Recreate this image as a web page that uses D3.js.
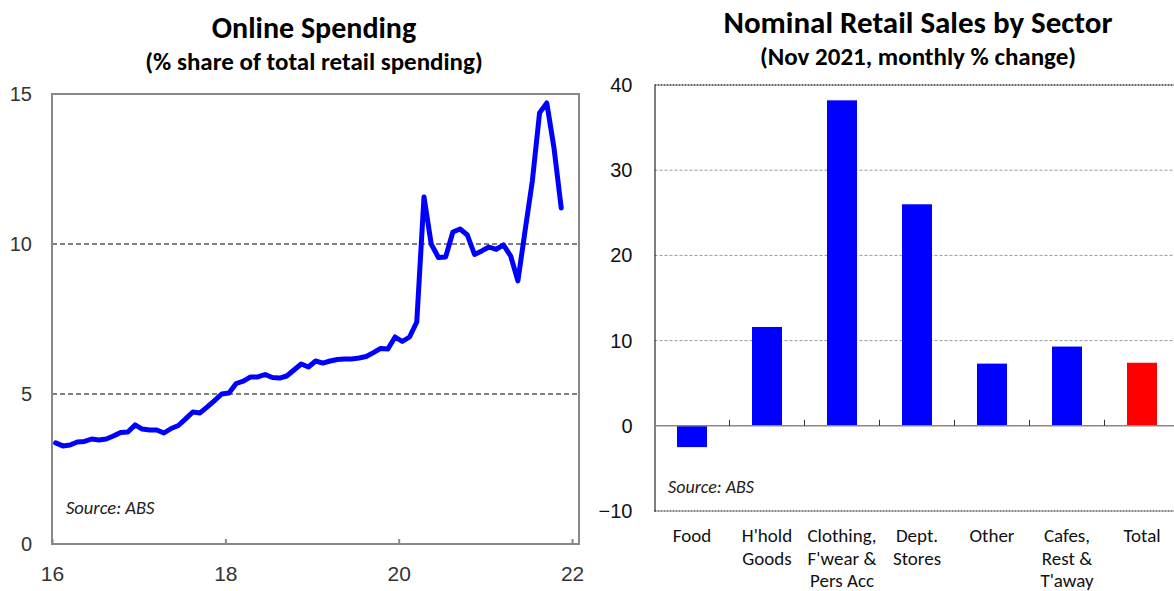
<!DOCTYPE html>
<html>
<head>
<meta charset="utf-8">
<script src="https://cdn.jsdelivr.net/npm/d3@7"></script>
<style>
  body { margin: 0; background: #fff; }
  svg { display: block; font-family: Carlito, Calibri, Lato, sans-serif; }
</style>
</head>
<body>
<div id="vis-container"></div>
<script>
// left chart: online share of retail, monthly Jan 2016 - Nov 2021
var onlineStart = 2016;
var onlineShare = [
  3.37, 3.27, 3.30, 3.40, 3.42, 3.50, 3.47, 3.50, 3.60, 3.72, 3.73, 3.97,
  3.83, 3.80, 3.80, 3.70, 3.85, 3.95, 4.17, 4.40, 4.37, 4.57, 4.78, 5.00,
  5.03, 5.35, 5.43, 5.57, 5.57, 5.65, 5.55, 5.53, 5.60, 5.80, 6.00, 5.90,
  6.10, 6.03, 6.10, 6.15, 6.17, 6.17, 6.20, 6.25, 6.38, 6.52, 6.50, 6.90,
  6.75, 6.90, 7.40, 11.57, 10.00, 9.55, 9.57, 10.40, 10.50, 10.30, 9.65, 9.77,
  9.90, 9.82, 9.97, 9.60, 8.77, 10.45, 12.10, 14.37, 14.70, 13.20, 11.20
];
var onlineYTicks = [0, 5, 10, 15];
var onlineXTicks = [16, 18, 20, 22];

// right chart: retail sales by sector
var sectors = ["Food", "H'hold Goods", "Clothing, F'wear & Pers Acc", "Dept. Stores", "Other", "Cafes, Rest & T'away", "Total"];
var sectorLines = [["Food"], ["H'hold", "Goods"], ["Clothing,", "F'wear &", "Pers Acc"], ["Dept.", "Stores"], ["Other"], ["Cafes,", "Rest &", "T'away"], ["Total"]];
var sectorChange = [-2.5, 11.6, 38.2, 26.0, 7.3, 9.3, 7.4];
var sectorYTicks = [-10, 0, 10, 20, 30, 40];

var svg = d3.select("#vis-container")
  .append("svg")
  .attr("width", 1174)
  .attr("height", 591);

// ---------- left chart ----------
var L = { left: 52, right: 579, top: 94, bottom: 544 };

var xL = d3.scaleLinear().domain([16, 22.08]).range([L.left, L.right]);
var yL = d3.scaleLinear().domain([0, 15]).range([L.bottom, L.top]);

svg.append("text")
  .attr("x", 314).attr("y", 38)
  .attr("text-anchor", "middle")
  .style("font-size", "30px").style("font-weight", "bold")
  .text("Online Spending");
svg.append("text")
  .attr("x", 314).attr("y", 70)
  .attr("text-anchor", "middle")
  .style("font-size", "25px").style("font-weight", "bold")
  .text("(% share of total retail spending)");

// dashed grid
svg.append("g").selectAll("line")
  .data([5, 10])
  .enter().append("line")
  .attr("x1", L.left).attr("x2", L.right)
  .attr("y1", function(d) { return yL(d); })
  .attr("y2", function(d) { return yL(d); })
  .attr("stroke", "#000").attr("stroke-width", 1)
  .attr("stroke-dasharray", "5,3");

var yAxisL = svg.append("g")
  .attr("transform", "translate(" + L.left + ",0)")
  .call(d3.axisLeft(yL).tickValues(onlineYTicks).tickSize(0).tickPadding(20));
yAxisL.select(".domain").remove();
yAxisL.selectAll("text").style("font-size", "20px").style("font-family", null).attr("fill", "#333");

var xAxisL = svg.append("g")
  .attr("transform", "translate(0," + L.bottom + ")")
  .call(d3.axisBottom(xL).tickValues(onlineXTicks).tickFormat(d3.format("d")).tickSize(-5).tickPadding(22));
xAxisL.select(".domain").remove();
xAxisL.selectAll("line").attr("stroke", "#888").attr("stroke-width", 2);
xAxisL.selectAll("text").style("font-size", "21px").style("font-family", null).attr("fill", "#333");

svg.append("rect")
  .attr("x", L.left).attr("y", L.top)
  .attr("width", L.right - L.left).attr("height", L.bottom - L.top)
  .attr("fill", "none").attr("stroke", "#888").attr("stroke-width", 2);

var line = d3.line()
  .x(function(d, i) { return xL(onlineStart - 2000 + (i + 0.5) / 12); })
  .y(function(d) { return yL(d); });

svg.append("path")
  .datum(onlineShare)
  .attr("d", line)
  .attr("fill", "none")
  .attr("stroke", "#0000ff")
  .attr("stroke-width", 5)
  .attr("stroke-linejoin", "round")
  .attr("stroke-linecap", "round");

svg.append("text")
  .attr("x", 66).attr("y", 514)
  .style("font-size", "18.5px").style("font-style", "italic")
  .attr("fill", "#222")
  .text("Source: ABS");

// ---------- right chart ----------
var R = { left: 654.5, right: 1179.5, top: 85, bottom: 511 };

var xR = d3.scaleBand().domain(sectors).range([R.left, R.right]).paddingInner(0.6).paddingOuter(0.3);
var yR = d3.scaleLinear().domain([-10, 40]).range([R.bottom, R.top]);

svg.append("text")
  .attr("x", 918).attr("y", 33)
  .attr("text-anchor", "middle")
  .style("font-size", "31px").style("font-weight", "bold")
  .text("Nominal Retail Sales by Sector");
svg.append("text")
  .attr("x", 918).attr("y", 65)
  .attr("text-anchor", "middle")
  .style("font-size", "25px").style("font-weight", "bold")
  .text("(Nov 2021, monthly % change)");

svg.append("g").selectAll("line")
  .data([10, 20, 30])
  .enter().append("line")
  .attr("x1", R.left).attr("x2", R.right)
  .attr("y1", function(d) { return yR(d); })
  .attr("y2", function(d) { return yR(d); })
  .attr("stroke", "#999").attr("stroke-width", 1)
  .attr("stroke-dasharray", "3,2");

// top and bottom borders
svg.append("line")
  .attr("x1", R.left).attr("x2", R.right)
  .attr("y1", yR(40)).attr("y2", yR(40))
  .attr("stroke", "#666").attr("stroke-width", 2)
  .attr("stroke-dasharray", "2,1");
svg.append("line")
  .attr("x1", R.left).attr("x2", R.right)
  .attr("y1", yR(-10)).attr("y2", yR(-10))
  .attr("stroke", "#555").attr("stroke-width", 1.5)
  .attr("stroke-dasharray", "2,1");

var yAxisR = svg.append("g")
  .attr("transform", "translate(" + R.left + ",0)")
  .call(d3.axisLeft(yR).tickValues(sectorYTicks).tickSize(0).tickPadding(22));
yAxisR.select(".domain").attr("stroke", "#000").attr("stroke-width", 1);
yAxisR.selectAll("text").style("font-size", "20px").style("font-family", null).attr("fill", "#111");

svg.append("g").selectAll("rect")
  .data(sectorChange)
  .enter().append("rect")
  .attr("x", function(d, i) { return xR(sectors[i]); })
  .attr("width", xR.bandwidth())
  .attr("y", function(d) { return yR(Math.max(0, d)); })
  .attr("height", function(d) { return Math.abs(yR(d) - yR(0)); })
  .attr("fill", function(d, i) { return sectors[i] === "Total" ? "#ff0000" : "#0000ff"; });

// zero line with category ticks
svg.append("line")
  .attr("x1", R.left).attr("x2", R.right)
  .attr("y1", yR(0)).attr("y2", yR(0))
  .attr("stroke", "#888").attr("stroke-width", 1.5);
svg.append("g").selectAll("line")
  .data(sectors.slice(1))
  .enter().append("line")
  .attr("x1", function(d) { return xR(d) - xR.step() * xR.paddingInner() / 2; })
  .attr("x2", function(d) { return xR(d) - xR.step() * xR.paddingInner() / 2; })
  .attr("y1", yR(0)).attr("y2", yR(0) - 6)
  .attr("stroke", "#333").attr("stroke-width", 1);

var labels = svg.append("g").selectAll("text")
  .data(sectors)
  .enter().append("text")
  .attr("x", function(d) { return xR(d) + xR.bandwidth() / 2; })
  .attr("y", 542)
  .attr("text-anchor", "middle")
  .style("font-size", "19px")
  .attr("fill", "#111");
labels.selectAll("tspan")
  .data(function(d, i) { return sectorLines[i]; })
  .enter().append("tspan")
  .attr("x", function() { return d3.select(this.parentNode).attr("x"); })
  .attr("dy", function(d, i) { return i === 0 ? 0 : 22.5; })
  .text(function(d) { return d; });

svg.append("text")
  .attr("x", 668).attr("y", 493)
  .style("font-size", "18px").style("font-style", "italic")
  .attr("fill", "#222")
  .text("Source: ABS");
</script>
</body>
</html>
